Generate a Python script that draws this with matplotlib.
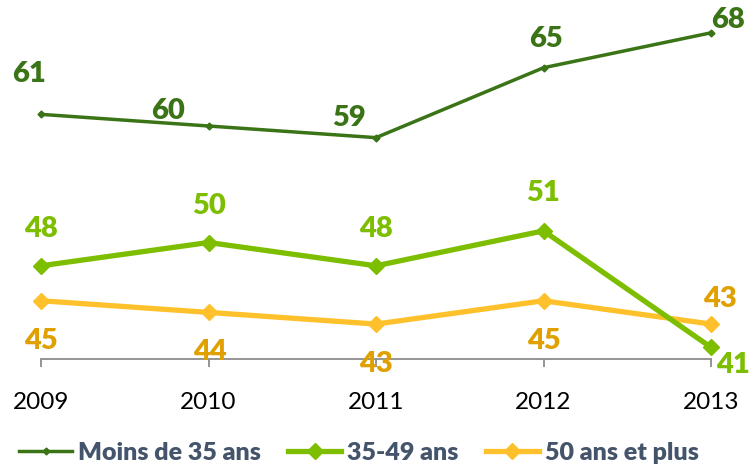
import matplotlib
matplotlib.use('Agg')
from matplotlib import pyplot as plt

years = [2009, 2010, 2011, 2012, 2013]
moins_35 = [61, 60, 59, 65, 68]
age_35_49 = [48, 50, 48, 51, 41]
plus_50 = [45, 44, 43, 45, 43]
labels = ['Moins de 35 ans', '35-49 ans', '50 ans et plus']

dark_green = '#3A7417'
light_green = '#7DBE00'
yellow = '#FFC12B'
yellow_txt = '#E0A100'

# label offsets in pixels (dx, dy), dy positive = down
off_moins = [(-12, -40), (-40, -15), (-27, -20), (2, -29), (17, -13)]
off_mid = [(0, -37), (1, -36), (0, -37), (0, -38), (22, 18)]
off_plus = [(0, 40), (1, 40), (0, 40), (0, 40), (9, -25)]

plt.rcParams['font.family'] = ['Lato', 'DejaVu Sans']

fig = plt.figure(figsize=(7.5, 4.66), dpi=100)
ax = fig.add_axes([41 / 750, 1 - 359 / 466, 670 / 750, 349.5 / 466])

ax.plot(years, moins_35, color=dark_green, lw=2.5, marker='D', ms=3.5,
        label=labels[0], clip_on=False, zorder=3)
ax.plot(years, age_35_49, color=light_green, lw=3.8, marker='D', ms=8,
        label=labels[1], clip_on=False, zorder=3)
ax.plot(years, plus_50, color=yellow, lw=3.8, marker='D', ms=8,
        label=labels[2], clip_on=False, zorder=2)


def put_labels(vals, offs, col):
    for x, v, (dx, dy) in zip(years, vals, offs):
        ax.annotate(str(v), (x, v), xytext=(dx * 0.72, -dy * 0.72),
                    textcoords='offset points', ha='center', va='center',
                    fontsize=21, fontweight='heavy', color=col, zorder=5,
                    annotation_clip=False)


put_labels(moins_35, off_moins, dark_green)
put_labels(age_35_49, off_mid, light_green)
put_labels(plus_50, off_plus, yellow_txt)

ax.set_xlim(2009, 2013)
ax.set_ylim(40, 70)
ax.set_xticks(years)
ax.set_xticklabels([str(y) for y in years])
ax.set_yticks([])
for s in ['top', 'right', 'left']:
    ax.spines[s].set_visible(False)
ax.spines['bottom'].set_color('#8C8C8C')
ax.spines['bottom'].set_linewidth(1.3)
ax.tick_params(axis='x', length=6, width=1.3, color='#8C8C8C',
               labelsize=17.5, pad=18, labelcolor='black')

leg = ax.legend(loc='center',
                bbox_to_anchor=((359 - 41) / 670, -(453 - 359) / 349.5),
                ncol=3, frameon=False, handlelength=2.1, handletextpad=0.25,
                columnspacing=1.1, borderaxespad=0,
                prop={'size': 18, 'weight': 'heavy'})
for t in leg.get_texts():
    t.set_color('#44546A')

fig.savefig('out.png', dpi=100)
